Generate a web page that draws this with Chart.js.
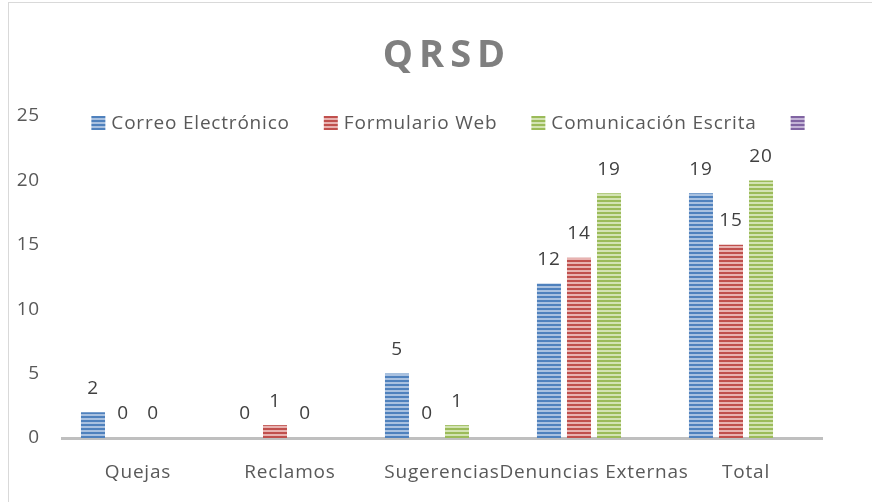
<!DOCTYPE html>
<html lang="es">
<head>
<meta charset="UTF-8">
<title>QRSD</title>
<script src="https://cdn.jsdelivr.net/npm/chart.js"></script>
<style>
  body { margin: 0; background: #fff; }
  #wrap { position: relative; width: 872px; height: 502px; overflow: hidden; }
  #frame { position: absolute; left: 8px; top: 2px; width: 900px; height: 600px; border-left: 1px solid #d9d9d9; border-top: 1px solid #d9d9d9; }
  canvas { position: absolute; left: 0; top: 0; }
</style>
</head>
<body>
<div id="wrap">
  <div id="frame"></div>
  <canvas id="qrsd" width="872" height="502"></canvas>
</div>
<script>
const TITLE = 'QRSD';
const categories = ['Quejas', 'Reclamos', 'Sugerencias', 'Denuncias Externas', 'Total'];
const correo = [2, 0, 5, 12, 19];
const formulario = [0, 1, 0, 14, 15];
const escrita = [0, 0, 1, 19, 20];
const vacia = [null, null, null, null, null];

// horizontal striped fill like the Excel pattern
function stripes(dark, light) {
    const c = document.createElement('canvas');
    c.width = 4; c.height = 4;
    const g = c.getContext('2d');
    g.fillStyle = light;
    g.fillRect(0, 0, 4, 4);
    g.fillStyle = dark;
    g.fillRect(0, 0, 4, 2);
    return g.createPattern(c, 'repeat');
}

const ctx = document.getElementById('qrsd').getContext('2d');
const FONT = '"Open Sans", sans-serif';
const SPACING = '0.8px';

// Calibri-ish widths: a touch of letter spacing on all text
const spacing = {
    id: 'spacing',
    beforeDraw(chart) { chart.ctx.letterSpacing = SPACING; }
};

const titlePlugin = {
    id: 'qrsdTitle',
    afterDraw(chart) {
        const c = chart.ctx;
        c.save();
        c.font = 'bold 38px ' + FONT;
        c.fillStyle = '#7f7f7f';
        c.letterSpacing = '6px';
        c.textAlign = 'center';
        c.textBaseline = 'alphabetic';
        c.fillText(TITLE, 447, 67);
        c.restore();
    }
};

// legend row sitting inside the top of the plot, like the Excel original
const legendRow = {
    id: 'legendRow',
    afterDraw(chart) {
        const c = chart.ctx;
        const box = 14, gap = 6, space = 34, cy = 123;
        c.save();
        c.font = '19px ' + FONT;
        c.letterSpacing = SPACING;
        c.textBaseline = 'middle';
        c.textAlign = 'left';
        const items = chart.data.datasets.map(ds => {
            const w = ds.label ? c.measureText(ds.label).width : 0;
            return { ds, w: box + (ds.label ? gap + w : 0) };
        });
        const total = items.reduce((s, it) => s + it.w, 0) + space * (items.length - 1);
        let x = 448 - total / 2;
        items.forEach(it => {
            c.fillStyle = it.ds.backgroundColor;
            c.fillRect(x, cy - box / 2, box, box);
            if (it.ds.label) {
                c.fillStyle = '#595959';
                c.fillText(it.ds.label, x + box + gap, cy + 1);
            }
            x += it.w + space;
        });
        c.restore();
    }
};

const valueLabels = {
    id: 'valueLabels',
    afterDatasetsDraw(chart) {
        const c = chart.ctx;
        c.save();
        c.font = '19px ' + FONT;
        c.fillStyle = '#404040';
        c.textAlign = 'center';
        c.textBaseline = 'middle';
        chart.data.datasets.forEach((ds, i) => {
            chart.getDatasetMeta(i).data.forEach((bar, j) => {
                const v = ds.data[j];
                if (v === null) return;
                c.fillText(String(v), bar.x, bar.y - 24);
            });
        });
        c.restore();
    }
};

new Chart(ctx, {
    type: 'bar',
    data: {
        labels: categories,
        datasets: [
            { label: 'Correo Electrónico', data: correo, backgroundColor: stripes('#4f81bd', '#a9c1e0') },
            { label: 'Formulario Web', data: formulario, backgroundColor: stripes('#c0504d', '#e8b3b1') },
            { label: 'Comunicación Escrita', data: escrita, backgroundColor: stripes('#9bbb59', '#d3e3b3') },
            { label: '', data: vacia, backgroundColor: stripes('#8064a2', '#c3b3d6') }
        ]
    },
    options: {
        responsive: false,
        animation: false,
        categoryPercentage: 0.79,
        barPercentage: 0.8,
        layout: { padding: { top: 116, right: 50, bottom: 0, left: 0 } },
        plugins: {
            legend: { display: false },
            tooltip: { enabled: false }
        },
        scales: {
            x: {
                grid: { display: false },
                border: { color: '#bfbfbf', width: 3 },
                ticks: { color: '#595959', font: { family: FONT, size: 19 }, padding: 15, maxRotation: 0, autoSkip: false },
                afterFit(scale) { scale.height = 64; }
            },
            y: {
                min: 0,
                max: 25,
                grid: { display: false, drawTicks: false },
                border: { display: false },
                ticks: { stepSize: 5, color: '#595959', font: { family: FONT, size: 19 }, padding: 22 },
                afterFit(scale) { scale.width = 62; }
            }
        }
    },
    plugins: [spacing, titlePlugin, legendRow, valueLabels]
});
</script>
</body>
</html>
